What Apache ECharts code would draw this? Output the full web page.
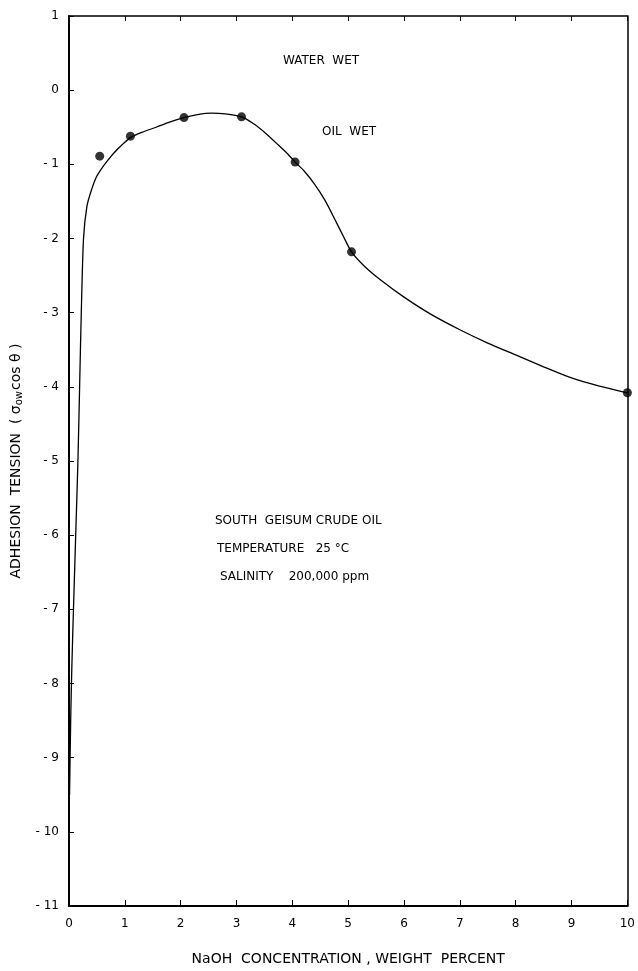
<!DOCTYPE html>
<html>
<head>
<meta charset="utf-8">
<script src="https://cdn.jsdelivr.net/npm/echarts@6/dist/echarts.min.js"></script>
<style>
html,body{margin:0;padding:0;background:#fff;}
#chart{width:638px;height:971px;}
</style>
</head>
<body>
<div id="chart"></div>
<script>
// measured data points (NaOH wt%, adhesion tension)
const pointsX = [0.55, 1.10, 2.06, 3.09, 4.05, 5.06, 10.0];
const pointsY = [-0.89, -0.62, -0.37, -0.36, -0.97, -2.18, -4.08];

// drawn smooth curve
const curveX = [0.01, 0.03, 0.05, 0.08, 0.12, 0.16, 0.19, 0.22, 0.26, 0.32, 0.40, 0.49, 0.58, 0.67, 0.80, 0.96, 1.10, 1.30, 1.56, 1.80, 2.06, 2.30, 2.55, 2.80, 3.09, 3.30, 3.52, 3.75, 3.93, 4.05, 4.20, 4.40, 4.58, 4.76, 4.92, 5.06, 5.30, 5.60, 6.0, 6.5, 7.0, 7.5, 8.0, 8.5, 9.0, 9.5, 10.0];
const curveY = [-9.5, -8.5, -7.8, -7.0, -6.0, -5.0, -4.0, -3.0, -2.0, -1.57, -1.35, -1.17, -1.06, -0.97, -0.85, -0.73, -0.64, -0.57, -0.50, -0.43, -0.37, -0.33, -0.31, -0.32, -0.36, -0.45, -0.58, -0.74, -0.87, -0.97, -1.08, -1.27, -1.48, -1.74, -1.98, -2.18, -2.38, -2.57, -2.79, -3.03, -3.23, -3.41, -3.57, -3.73, -3.88, -3.99, -4.08];

const xTicks = [0,1,2,3,4,5,6,7,8,9,10];
const yTicks = [1,0,-1,-2,-3,-4,-5,-6,-7,-8,-9,-10,-11];

const xAxisTitle = 'NaOH  CONCENTRATION , WEIGHT  PERCENT';
const annotations = [
  {text: 'WATER  WET', left: 283, top: 55},
  {text: 'OIL  WET', left: 322, top: 126},
  {text: 'SOUTH  GEISUM CRUDE OIL', left: 215, top: 515},
  {text: 'TEMPERATURE   25 °C', left: 217, top: 543},
  {text: 'SALINITY    200,000 ppm', left: 220, top: 571}
];

const font = 'DejaVu Sans';
const chart = echarts.init(document.getElementById('chart'));
const curve = curveX.map((x,i)=>[x, curveY[i]]);
const pts = pointsX.map((x,i)=>[x, pointsY[i]]);

chart.setOption({
  backgroundColor: '#fff',
  animation: false,
  grid: {left: 69, right: 5, top: 16, bottom: 65, show: false},
  xAxis: [{
    type: 'value', min: 0, max: 10, interval: 1,
    axisLine: {show: true, onZero: false, lineStyle: {color: '#000', width: 2}},
    axisTick: {show: true, inside: true, length: 6, lineStyle: {color: '#000', width: 1}},
    axisLabel: {color: '#000', fontFamily: font, fontSize: 12, margin: 12,
      formatter: v => xTicks.includes(v) ? String(v) : ''},
    splitLine: {show: false},
    name: xAxisTitle, nameLocation: 'middle', nameGap: 46,
    nameTextStyle: {color: '#000', fontFamily: font, fontSize: 14}
  }, {
    type: 'value', min: 0, max: 10, interval: 1, position: 'top',
    axisLine: {show: true, onZero: false, lineStyle: {color: '#000', width: 1.5}},
    axisTick: {show: true, inside: true, length: 5, lineStyle: {color: '#000', width: 1}},
    axisLabel: {show: false}, splitLine: {show: false}
  }],
  yAxis: [{
    type: 'value', min: -11, max: 1, interval: 1,
    axisLine: {show: true, onZero: false, lineStyle: {color: '#000', width: 2}},
    axisTick: {show: true, inside: true, length: 5, lineStyle: {color: '#000', width: 1}},
    axisLabel: {color: '#000', fontFamily: font, fontSize: 12, margin: 10,
      formatter: v => yTicks.includes(v) ? (v < 0 ? '- ' + Math.abs(v) : String(v)) : ''},
    splitLine: {show: false},
    name: '{a|ADHESION  TENSION  ( σ}{s|ow}{a|cos θ )}', nameLocation: 'middle', nameGap: 38,
    nameRotate: 90,
    nameTextStyle: {color: '#000', fontFamily: font, fontSize: 14,
      rich: {
        a: {color: '#000', fontFamily: font, fontSize: 14},
        s: {color: '#000', fontFamily: font, fontSize: 10, verticalAlign: 'bottom', padding: [6,1,0,0]}
      }}
  }, {
    type: 'value', min: -11, max: 1, interval: 1, position: 'right',
    axisLine: {show: true, onZero: false, lineStyle: {color: '#000', width: 1.5}},
    axisTick: {show: false}, axisLabel: {show: false}, splitLine: {show: false}
  }],
  graphic: annotations.map(a => ({
    type: 'text', left: a.left, top: a.top,
    style: {text: a.text, fill: '#000', font: '12px "' + font + '"'}
  })),
  series: [{
    type: 'line', data: curve, smooth: 0.25, showSymbol: false,
    lineStyle: {color: '#000', width: 1.3}, z: 2
  }, {
    type: 'scatter', data: pts, symbol: 'circle', symbolSize: 9,
    itemStyle: {color: '#000'}, z: 3
  }]
});
</script>
</body>
</html>
